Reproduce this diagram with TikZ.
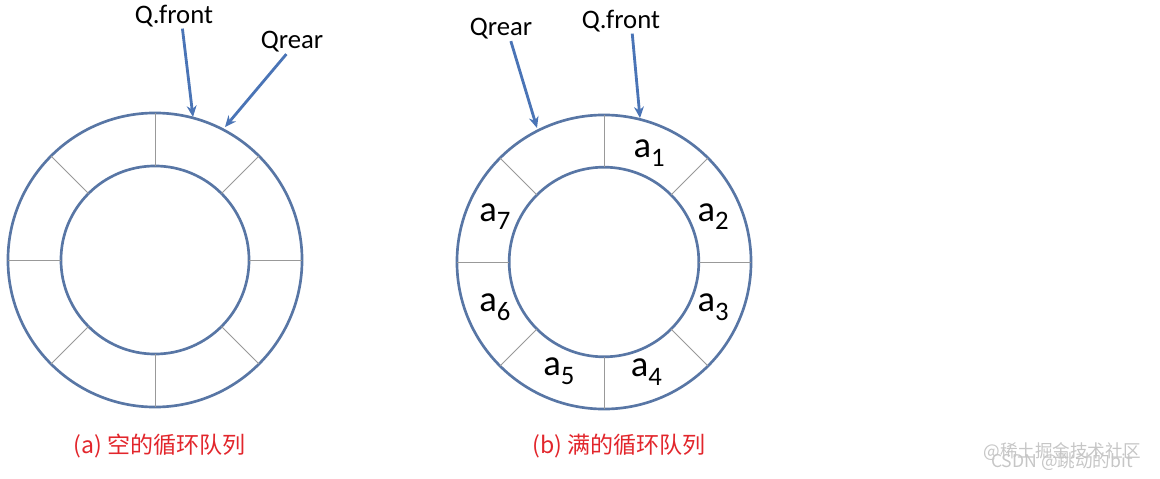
\documentclass[tikz,border=0pt]{standalone}
\usepackage{fontspec}
\setmainfont{Carlito}
\newfontfamily\cjk{Noto Sans CJK SC}
\usepackage{tikz}
\usetikzlibrary{arrows.meta,calc,positioning}
\definecolor{ringblue}{RGB}{88,118,165}
\definecolor{ptrblue}{RGB}{74,116,182}
\definecolor{capred}{RGB}{226,38,44}
\newcommand{\elem}[1]{a\raisebox{-6pt}{\fontsize{19}{19}\selectfont #1}}

\begin{document}
\begin{tikzpicture}[x=0.025cm, y=-0.025cm,
    ring/.style={draw=ringblue, line width=1.9pt},
    divider/.style={draw=gray!80, line width=0.7pt},
    ptr/.style={draw=ptrblue, line width=2pt, -{Stealth[length=8pt,width=7pt]}},
    ptrlabel/.style={font=\fontsize{19}{19}\selectfont, inner sep=1pt},
    caption/.style={text=capred, font=\cjk\fontsize{16.4}{18}\selectfont}]
   \useasboundingbox (0,0) rectangle (1160,479);
   \coordinate (ctrA) at (155,260);
   \coordinate (ctrB) at (604,262);
   % empty queue
   \draw[ring] (ctrA) circle (3.675cm);
   \draw[ring] (ctrA) circle (2.35cm);
   \foreach \a in {0,45,...,315}
     \draw[divider] ($(ctrA)+(\a:2.35cm)$) -- ($(ctrA)+(\a:3.675cm)$);
   % full queue
   \draw[ring] (ctrB) circle (3.675cm);
   \draw[ring] (ctrB) circle (2.37cm);
   \foreach \a in {0,45,...,315}
     \draw[divider] ($(ctrB)+(\a:2.37cm)$) -- ($(ctrB)+(\a:3.675cm)$);
   \begin{scope}[every node/.style={font=\fontsize{26}{26}\selectfont, inner sep=0pt}]
    \foreach \i/\a in {1/67.5,2/22.5,3/-22.5,4/-69,5/-112.5,6/-157.5,7/157.5}
      \node (elem\i) at ($(ctrB)+(\a:2.95cm)$) {\elem{\i}};
   \end{scope}
   % pointers
   \begin{scope}[every node/.style={ptrlabel}]
    \node (frontA) at (174,16) {Q.front};
    \node (rearA) at (292,42) {Qrear};
    \node (rearB) at (501,29) {Qrear};
    \node (frontB) at (621,21) {Q.front};
   \end{scope}
   \coordinate (frontA tip) at (193,117);
   \coordinate (rearA tip) at (225,127);
   \coordinate (rearB tip) at (537,128);
   \coordinate (frontB tip) at (640,118);
   \draw[ptr] ([xshift=6pt]frontA.south) -- (frontA tip);
   \draw[ptr] ([xshift=-4pt]rearA.south) -- (rearA tip);
   \draw[ptr] ([xshift=7pt]rearB.south) -- (rearB tip);
   \draw[ptr] ([xshift=8pt]frontB.south) -- (frontB tip);
   % captions
   \node[caption] (capA) at (160,446) {(a) 空的循环队列};
   \node[caption] (capB) at (619,446) {(b) 满的循环队列};
   % watermark
   \node[text=gray!45, font=\cjk\fontsize{12.5}{13}\selectfont] (markA) at (1062,452) {@稀土掘金技术社区};
   \node[text=gray!45, font=\cjk\fontsize{12.5}{13}\selectfont] (markB) at (1062,462) {CSDN @跳动的bit};
\end{tikzpicture}
\end{document}
